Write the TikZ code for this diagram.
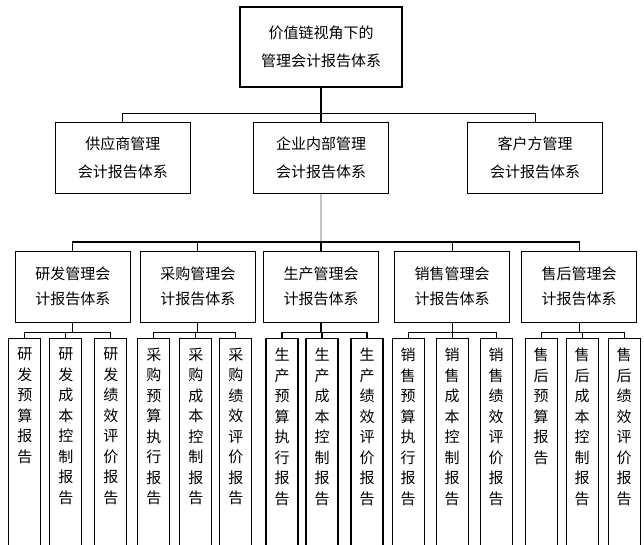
\documentclass[tikz,border=0pt]{standalone}
\usepackage{fontspec}
\setmainfont{Noto Sans CJK SC}
\XeTeXlinebreaklocale "zh"
\XeTeXlinebreakskip = 0pt plus 1pt
\usepackage{tikz}
\usetikzlibrary{positioning}
\tikzstyle{box} = [rectangle, draw, line width=1.1pt, align=center, inner sep=1pt, font=\fontsize{15}{28}\selectfont]
\tikzstyle{midbox} = [box, minimum width=135pt, minimum height=71pt]
\tikzstyle{subbox} = [box, minimum width=115pt, minimum height=71pt, font=\fontsize{15}{25}\selectfont]
\tikzstyle{leaf} = [rectangle, draw, line width=1.1pt, minimum width=32pt, minimum height=211pt, inner sep=0pt]
\tikzstyle{vtext} = [anchor=north, yshift=-10pt, text width=17pt, align=center, inner sep=0pt, font=\fontsize{15}{20.5}\selectfont]
\tikzstyle{line} = [draw, line width=1.1pt]
\tikzstyle{greyline} = [draw, line width=1.1pt, gray!45]

\begin{document}
\begin{tikzpicture}[x=1pt, y=-1pt]
\useasboundingbox (0,0) rectangle (644,545);
    % nodes
\node [box, minimum width=162pt, minimum height=80pt] (jzl) at (321,47) {价值链视角下的\\管理会计报告体系};
\node [midbox, below=34pt of jzl] (qyn) {企业内部管理\\会计报告体系};
\node [midbox, left=62pt of qyn] (gys) {供应商管理\\会计报告体系};
\node [midbox, right=78pt of qyn] (khf) {客户方管理\\会计报告体系};
\node [subbox, below=57pt of qyn] (sc) {生产管理会\\计报告体系};
\node [subbox, left=7pt of sc] (cg) {采购管理会\\计报告体系};
\node [subbox, left=9pt of cg] (yf) {研发管理会\\计报告体系};
\node [subbox, right=15pt of sc] (xs) {销售管理会\\计报告体系};
\node [subbox, right=11pt of xs] (sh) {售后管理会\\计报告体系};
\coordinate (fork) at (321,242);

\node [leaf, below=15pt of yf, xshift=-48pt, label={[vtext]north:研发预算报告}] (yfys) {};
\node [leaf, below=15pt of yf, xshift=-7pt, label={[vtext]north:研发成本控制报告}] (yfcb) {};
\node [leaf, below=15pt of yf, xshift=38pt, label={[vtext]north:研发绩效评价报告}] (yfjx) {};
\node [leaf, below=15pt of cg, xshift=-44pt, label={[vtext]north:采购预算执行报告}] (cgys) {};
\node [leaf, below=15pt of cg, xshift=-2pt, label={[vtext]north:采购成本控制报告}] (cgcb) {};
\node [leaf, below=15pt of cg, xshift=38pt, label={[vtext]north:采购绩效评价报告}] (cgjx) {};
\node [leaf, below=15pt of sc, xshift=-39pt, label={[vtext]north:生产预算执行报告}] (scys) {};
\node [leaf, below=15pt of sc, xshift=1pt, label={[vtext]north:生产成本控制报告}] (sccb) {};
\node [leaf, below=15pt of sc, xshift=46pt, label={[vtext]north:生产绩效评价报告}] (scjx) {};
\node [leaf, below=15pt of xs, xshift=-44pt, label={[vtext]north:销售预算执行报告}] (xsys) {};
\node [leaf, below=15pt of xs, xshift=0pt, label={[vtext]north:销售成本控制报告}] (xscb) {};
\node [leaf, below=15pt of xs, xshift=44pt, label={[vtext]north:销售绩效评价报告}] (xsjx) {};
\node [leaf, below=15pt of sh, xshift=-38pt, label={[vtext]north:售后预算报告}] (shys) {};
\node [leaf, below=15pt of sh, xshift=3pt, label={[vtext]north:售后成本控制报告}] (shcb) {};
\node [leaf, below=15pt of sh, xshift=45pt, label={[vtext]north:售后绩效评价报告}] (shjx) {};

    %edges
\path [line] (jzl.south) -- ++(0,26) -| (gys.north);
\path [line] (jzl.south) -- ++(0,26) -| (khf.north);
\path [line] (jzl.south) -- (qyn.north);
\path [greyline] (qyn.south) -- (fork);
\path [line] (fork) -| (yf.north);
\path [line] (fork) -| (cg.north);
\path [line] (fork) -- (sc.north);
\path [line] (fork) -| (xs.north);
\path [line] (fork) -| (sh.north);

\path [line] (yf.south) -- ++(0,10) -| (yfys.north);
\path [line] (yf.south) -- ++(0,10) -| (yfcb.north);
\path [line] (yf.south) -- ++(0,10) -| (yfjx.north);
\path [line] (cg.south) -- ++(0,10) -| (cgys.north);
\path [line] (cg.south) -- ++(0,10) -| (cgcb.north);
\path [line] (cg.south) -- ++(0,10) -| (cgjx.north);
\path [line] (sc.south) -- ++(0,10) -| (scys.north);
\path [line] (sc.south) -- ++(0,10) -| (sccb.north);
\path [line] (sc.south) -- ++(0,10) -| (scjx.north);
\path [line] (xs.south) -- ++(0,10) -| (xsys.north);
\path [line] (xs.south) -- ++(0,10) -| (xscb.north);
\path [line] (xs.south) -- ++(0,10) -| (xsjx.north);
\path [line] (sh.south) -- ++(0,10) -| (shys.north);
\path [line] (sh.south) -- ++(0,10) -| (shcb.north);
\path [line] (sh.south) -- ++(0,10) -| (shjx.north);
\end{tikzpicture}
\end{document}
